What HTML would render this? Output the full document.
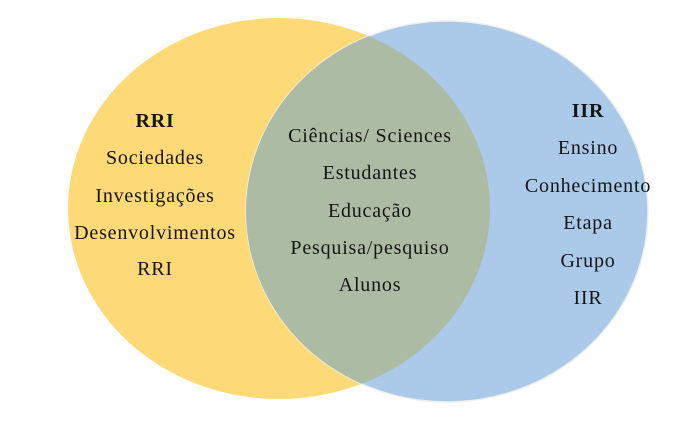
<!DOCTYPE html>
<html><head><meta charset="utf-8"><style>
html,body{margin:0;padding:0;background:#fff;}
svg{display:block}
text{font-family:"Liberation Serif",serif;font-size:20px;letter-spacing:0.8px;fill:#151515;text-anchor:middle;}
</style></head><body>
<svg width="680" height="425" viewBox="0 0 680 425">
<defs><clipPath id="c"><ellipse cx="279" cy="208.5" rx="211" ry="190.5"/></clipPath></defs>
<ellipse cx="279" cy="208.5" rx="211" ry="190.5" fill="#FDD978"/>
<ellipse cx="447" cy="211.5" rx="201" ry="190.5" fill="#ABC9E8" stroke="#eef0ec" stroke-width="1.5"/>
<ellipse cx="447" cy="211.5" rx="201" ry="190.5" fill="#ACBBA4" clip-path="url(#c)"/>
<g>
<text x="155" y="127" font-weight="bold">RRI</text>
<text x="155" y="164">Sociedades</text>
<text x="155" y="202">Investigações</text>
<text x="155" y="239">Desenvolvimentos</text>
<text x="155" y="275">RRI</text>
<text x="370" y="142">Ciências/ Sciences</text>
<text x="370" y="179">Estudantes</text>
<text x="370" y="217">Educação</text>
<text x="370" y="254">Pesquisa/pesquiso</text>
<text x="370" y="291">Alunos</text>
<text x="588" y="117" font-weight="bold">IIR</text>
<text x="588" y="154">Ensino</text>
<text x="588" y="192">Conhecimento</text>
<text x="588" y="229">Etapa</text>
<text x="588" y="267">Grupo</text>
<text x="588" y="304">IIR</text>
</g>
</svg>
</body></html>
